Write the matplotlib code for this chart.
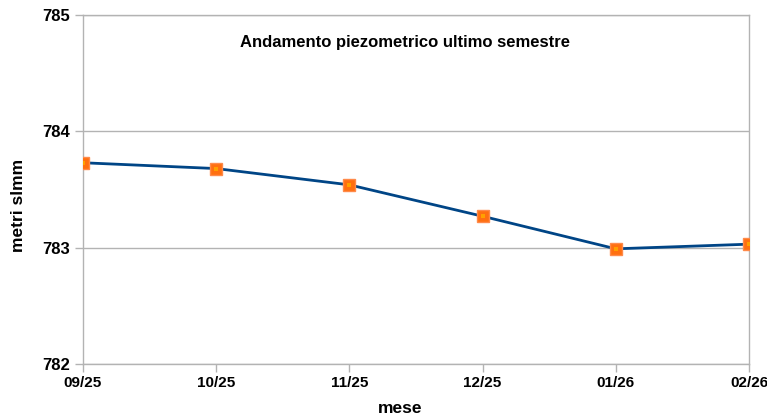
import matplotlib
matplotlib.use("Agg")
import matplotlib.pyplot as plt

plt.rcParams['font.family'] = ['Liberation Sans', 'DejaVu Sans']

mesi = ['09/25', '10/25', '11/25', '12/25', '01/26', '02/26']
livello = [783.73, 783.68, 783.54, 783.27, 782.99, 783.03]
y_ticks = [782, 783, 784, 785]

fig = plt.figure(figsize=(7.67, 4.18), dpi=100)
ax = fig.add_axes([0.1082, 0.1292, 0.8683, 0.8349])

x = list(range(len(mesi)))
ax.plot(x, livello, color='#004586', linewidth=2, zorder=3)
# marker quadrati arancio con centro piu' chiaro
ax.plot(x, livello, linestyle='none', marker='s', markersize=8.5,
        markerfacecolor='#ff6f10', markeredgecolor='#ff8a4a', markeredgewidth=1, zorder=4)
ax.plot(x, livello, linestyle='none', marker='s', markersize=3.5,
        markerfacecolor='#ffa000', markeredgewidth=0, zorder=5)

ax.set_xlim(0, len(mesi) - 1)
ax.set_ylim(782, 785)
ax.set_xticks(x)
ax.set_xticklabels(mesi, fontweight='bold', fontsize=11)
ax.set_yticks(y_ticks)
ax.set_yticklabels([str(v) for v in y_ticks], fontweight='bold', fontsize=12)

ax.grid(axis='y', color='#b3b3b3', linewidth=1)
ax.set_axisbelow(True)
for s in ax.spines.values():
    s.set_color('#b3b3b3')
    s.set_linewidth(1)
ax.tick_params(axis='both', color='#b3b3b3', length=6, width=1, pad=3)

ax.set_ylabel('metri slmm', fontweight='bold', fontsize=12.5)
ax.yaxis.set_label_coords(-0.086, 0.453)
ax.set_xlabel('mese', fontweight='bold', fontsize=12.5)
ax.xaxis.set_label_coords(0.476, -0.106)

ax.text(0.483, 0.92, 'Andamento piezometrico ultimo semestre', transform=ax.transAxes,
        ha='center', va='center', fontweight='bold', fontsize=12)

fig.savefig('out.png', dpi=100)
